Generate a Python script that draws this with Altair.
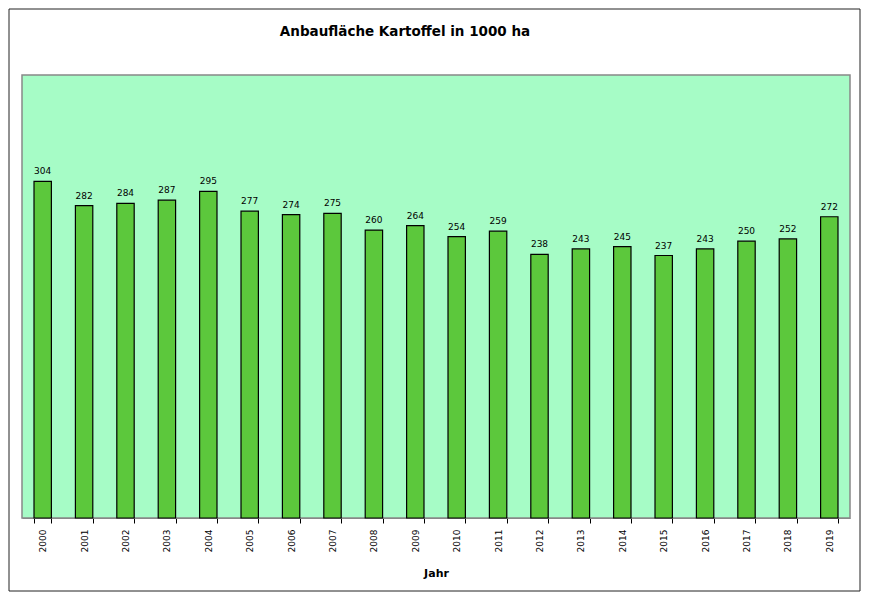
import altair as alt
import pandas as pd

years = [str(y) for y in range(2000, 2020)]
values = [304, 282, 284, 287, 295, 277, 274, 275, 260, 264, 254, 259, 238, 243, 245, 237, 243, 250, 252, 272]
title_text = ["Anbaufläche Kartoffel in 1000 ha"]

df = pd.DataFrame({"Jahr": years, "Wert": values})

W, H = 828, 443
FONT = "DejaVu Sans"

xenc = alt.X("Jahr:N", title="Jahr", sort=None,
             scale=alt.Scale(paddingInner=0.58, paddingOuter=0.29),
             axis=alt.Axis(labelAngle=-90, labelFontSize=9, labelFont=FONT, labelColor="#000",
                           labelPadding=6, tickBand="extent", tickSize=5, tickColor="#000",
                           domainColor="#888", titleFont=FONT, titleFontSize=11,
                           titleFontWeight="bold", titleColor="#000", titlePadding=16))
yenc = alt.Y("Wert:Q", scale=alt.Scale(domain=[0, 400]), axis=None)

bars = alt.Chart(df).mark_bar(color="#5CC83C", stroke="#000", strokeWidth=1.2).encode(x=xenc, y=yenc)
labels = alt.Chart(df).mark_text(dy=-10, fontSize=9, font=FONT, color="#000").encode(
    x=xenc, y=yenc, text="Wert:Q")

frame = alt.Chart(pd.DataFrame({"a": [0]})).mark_rect(
    fill=None, stroke="#222", strokeWidth=1, clip=False).encode(
    x=alt.value(-13), x2=alt.value(838), y=alt.value(-66), y2=alt.value(516))

title = alt.Chart(pd.DataFrame({"t": title_text})).mark_text(
    font=FONT, fontSize=13.5, fontWeight="bold", color="#000", clip=False).encode(
    x=alt.value(383), y=alt.value(-43), text="t:N")

chart = alt.layer(frame, bars, labels, title).properties(
    width=W, height=H,
    background="white",
    autosize=alt.AutoSizeParams(type="none"),
    padding={"left": 14, "top": 67, "right": 11, "bottom": 75},
).configure_view(fill="#A6FCC6", stroke="#888", strokeWidth=1.5)

chart.save("out.html", embed_options={"renderer": "svg", "actions": False})
